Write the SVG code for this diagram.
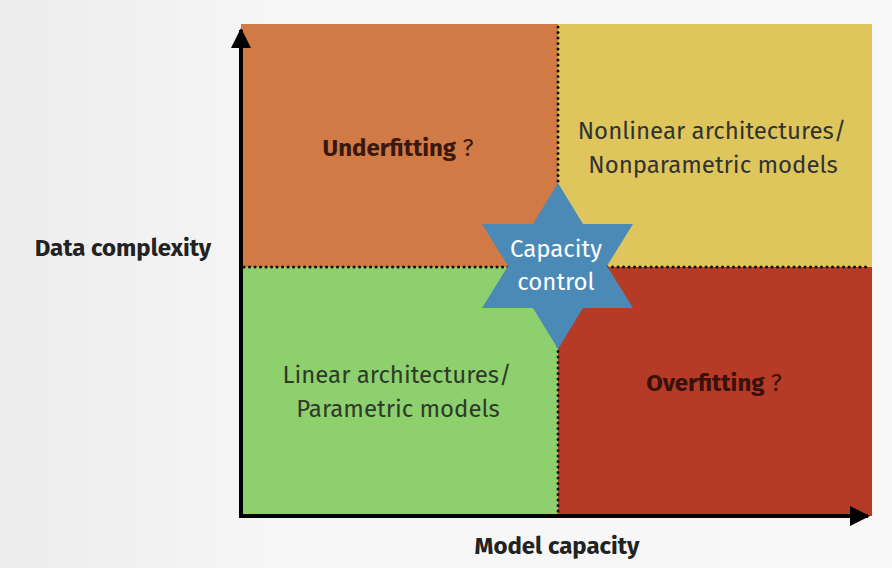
<svg xmlns="http://www.w3.org/2000/svg" width="892" height="568" viewBox="0 0 892 568">
<defs>
<linearGradient id="bg" x1="0" y1="0" x2="1" y2="0">
<stop offset="0" stop-color="#ececec"/>
<stop offset="0.3" stop-color="#f6f6f6"/>
<stop offset="1" stop-color="#f8f8f8"/>
</linearGradient>
<marker id="ah" viewBox="0 0 10 10" refX="9" refY="5" markerWidth="5" markerHeight="5" orient="auto" markerUnits="strokeWidth">
<path d="M0,0 L10,5 L0,10 z" fill="#000"/>
</marker>
<style>
.t{font-family:"Fira Sans","Open Sans","Noto Sans",sans-serif;font-size:24px;text-anchor:middle}
.b{font-weight:bold}
.dot{stroke:#111;stroke-width:3;stroke-dasharray:0.1 5.4;stroke-linecap:round;fill:none}
.ax{stroke:#000;stroke-width:4;fill:none}
</style>
</defs>
<rect width="892" height="568" fill="url(#bg)"/>
<g id="q-underfitting">
<rect x="241" y="24" width="317" height="243" fill="#D17A45"/>
<text class="t" x="398" y="156" fill="#3a1810"><tspan class="b">Underfitting</tspan> ?</text>
</g>
<g id="q-nonlinear">
<rect x="558" y="24" width="314" height="243" fill="#DFC65C"/>
<text class="t" x="712" y="139" fill="#333">Nonlinear architectures/</text>
<text class="t" x="713" y="173" fill="#333">Nonparametric models</text>
</g>
<g id="q-linear">
<rect x="241" y="267" width="317" height="249" fill="#8ED06E"/>
<text class="t" x="397" y="383" fill="#2e3a28">Linear architectures/</text>
<text class="t" x="398" y="417" fill="#2e3a28">Parametric models</text>
</g>
<g id="q-overfitting">
<rect x="558" y="267" width="314" height="249" fill="#B53B26"/>
<text class="t" x="714" y="391" fill="#3a100a"><tspan class="b">Overfitting</tspan> ?</text>
</g>
<g id="connectors">
<line class="dot" x1="558" y1="27" x2="558" y2="514"/>
<line class="dot" x1="244" y1="267" x2="871" y2="267"/>
<line class="ax" x1="241" y1="518" x2="241" y2="30" marker-end="url(#ah)"/>
<line class="ax" x1="239" y1="516" x2="868" y2="516" marker-end="url(#ah)"/>
</g>
<g id="star">
<polygon points="558,183 583,224 633,224 607,266 633,308 583,308 558,349 533,308 482,308 508,266 482,224 533,224" fill="#4B8AB7"/>
<text class="t" x="556" y="257" fill="#fff" font-size="26">Capacity</text>
<text class="t" x="556" y="290" fill="#fff" font-size="26">control</text>
</g>
<g id="labels">
<text class="t b" x="123" y="256" fill="#222">Data complexity</text>
<text class="t b" x="557" y="554" fill="#222">Model capacity</text>
</g>
</svg>
